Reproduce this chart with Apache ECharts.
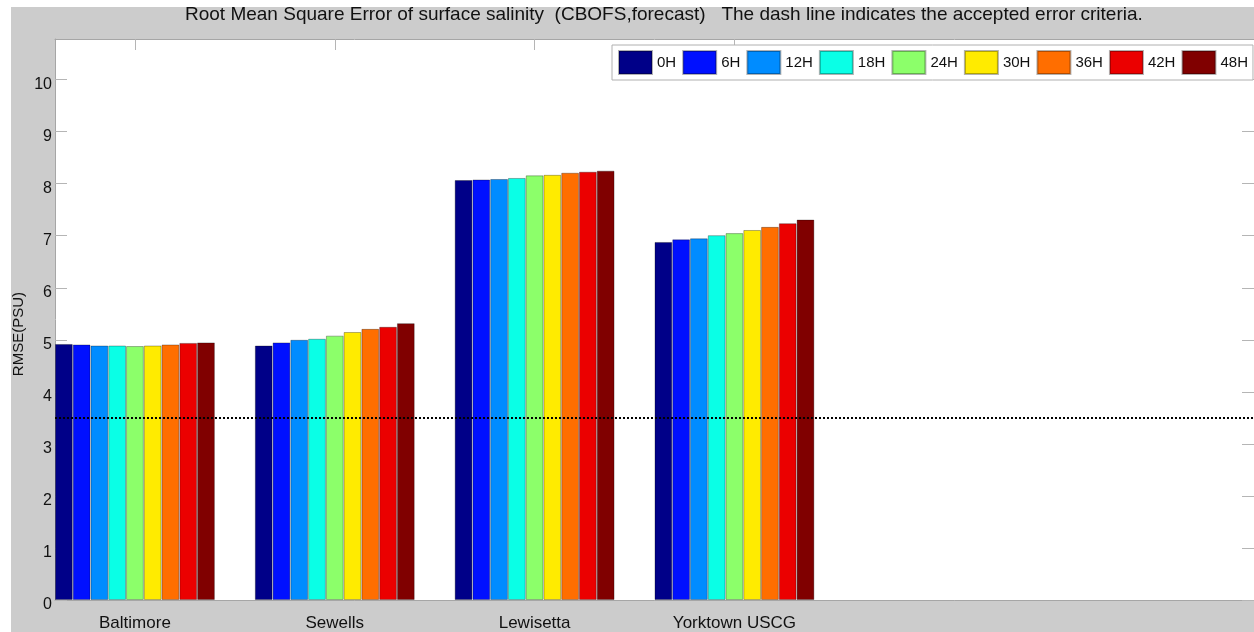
<!DOCTYPE html>
<html>
<head>
<meta charset="utf-8">
<script src="https://cdn.jsdelivr.net/npm/echarts@6/dist/echarts.min.js"></script>
<style>
html,body{margin:0;padding:0;background:#fff;}
#wrap{position:relative;width:1254px;height:632px;overflow:hidden;background:#fff;}
#bg{position:absolute;left:11px;top:7px;right:0;bottom:0;background:#cccccc;}
#chart{position:absolute;left:0;top:0;width:1254px;height:632px;}
</style>
</head>
<body>
<div id="wrap"><div id="bg"></div><div id="chart"></div></div>
<script>
const stations = ['Baltimore', 'Sewells', 'Lewisetta', 'Yorktown USCG'];
const stationPos = [1, 2, 3, 4];
const seriesNames = ['0H', '6H', '12H', '18H', '24H', '30H', '36H', '42H', '48H'];
const colors = ['#000088', '#0010ff', '#008cff', '#0affe6', '#8cff6a', '#ffeb00', '#ff6e00', '#eb0000', '#800000'];
// RMSE values per forecast hour, one entry per station
const v0H  = [4.92, 4.89, 8.07, 6.88];
const v6H  = [4.91, 4.95, 8.08, 6.93];
const v12H = [4.89, 5.00, 8.09, 6.95];
const v18H = [4.89, 5.02, 8.11, 7.01];
const v24H = [4.88, 5.08, 8.16, 7.05];
const v30H = [4.89, 5.15, 8.17, 7.11];
const v36H = [4.91, 5.21, 8.21, 7.17];
const v42H = [4.94, 5.25, 8.23, 7.24];
const v48H = [4.95, 5.32, 8.25, 7.31];
const criterion = 3.5;
const yTicks = [0, 1, 2, 3, 4, 5, 6, 7, 8, 9, 10];

const allVals = [v0H, v6H, v12H, v18H, v24H, v30H, v36H, v42H, v48H];
const FONT = "'Liberation Sans', Arial, Helvetica, sans-serif";

const series = seriesNames.map((name, i) => {
  const s = {
    name: name,
    type: 'bar',
    barGap: '0%',
    barCategoryGap: '20%',
    itemStyle: { color: colors[i], borderColor: 'rgba(0,0,0,0.3)', borderWidth: 1 },
    emphasis: { disabled: true },
    data: allVals[i].map((v, j) => [stationPos[j], v])
  };
  if (i === 0) {
    s.markLine = {
      silent: true,
      symbol: 'none',
      label: { show: false },
      lineStyle: { color: '#000', type: [2, 2], width: 2 },
      z: 10,
      data: [{ yAxis: criterion }]
    };
  }
  return s;
});

const chart = echarts.init(document.getElementById('chart'), null, { renderer: 'canvas' });
chart.setOption({
  backgroundColor: 'transparent',
  animation: false,
  textStyle: { fontFamily: FONT },
  title: {
    text: 'Root Mean Square Error of surface salinity  (CBOFS,forecast)   The dash line indicates the accepted error criteria.',
    left: 180,
    top: 0,
    textStyle: { fontFamily: FONT, fontSize: 19, fontWeight: 'normal', color: '#111' }
  },
  graphic: [{
    type: 'text',
    left: 11,
    top: 292,
    rotation: Math.PI / 2,
    style: { text: 'RMSE(PSU)', fontFamily: FONT, fontSize: 15, fill: '#111' }
  }],
  legend: {
    data: seriesNames,
    left: 612,
    top: 45,
    width: 700,
    orient: 'horizontal',
    padding: [5, 5, 5, 6],
    itemWidth: 33,
    itemHeight: 23,
    itemGap: 6,
    icon: 'rect',
    backgroundColor: '#fff',
    borderColor: '#b0b0b0',
    borderWidth: 1,
    borderRadius: 0,
    textStyle: { fontFamily: FONT, fontSize: 15, color: '#111' }
  },
  grid: {
    left: 55, top: 39, width: 1204, height: 563,
    show: true, backgroundColor: '#fff', borderWidth: 0
  },
  xAxis: [
    {
      type: 'value', min: 0.6, max: 6.6, position: 'bottom',
      axisLine: { show: true, onZero: false, lineStyle: { color: '#a6a6a6', width: 1 } },
      axisTick: { show: false },
      axisLabel: {
        show: true, customValues: stationPos, margin: 15,
        formatter: v => stations[stationPos.indexOf(Math.round(v))] || '',
        fontFamily: FONT, fontSize: 17, color: '#111'
      },
      splitLine: { show: false }
    },
    {
      type: 'value', min: 0.6, max: 6.6, position: 'top',
      axisLine: { show: true, onZero: false, lineStyle: { color: '#a6a6a6', width: 1 } },
      axisTick: { show: true, inside: true, length: 11, customValues: stationPos, lineStyle: { color: '#b5b5b5' } },
      axisLabel: { show: false },
      splitLine: { show: false }
    }
  ],
  yAxis: [
    {
      type: 'value', min: 0, max: 10.78, interval: 1, position: 'left',
      axisLine: { show: true, onZero: false, lineStyle: { color: '#a6a6a6', width: 1 } },
      axisTick: { show: true, inside: true, length: 12, customValues: yTicks, lineStyle: { color: '#b5b5b5' } },
      axisLabel: {
        show: true, customValues: yTicks, margin: 3, verticalAlign: 'top', lineHeight: 10,
        fontFamily: FONT, fontSize: 16, color: '#111'
      },
      splitLine: { show: false }
    },
    {
      type: 'value', min: 0, max: 10.78, interval: 1, position: 'right',
      axisLine: { show: true, onZero: false, lineStyle: { color: '#a6a6a6', width: 1 } },
      axisTick: { show: true, inside: true, length: 12, customValues: yTicks, lineStyle: { color: '#b5b5b5' } },
      axisLabel: { show: false },
      splitLine: { show: false }
    }
  ],
  series: series
});
</script>
</body>
</html>
